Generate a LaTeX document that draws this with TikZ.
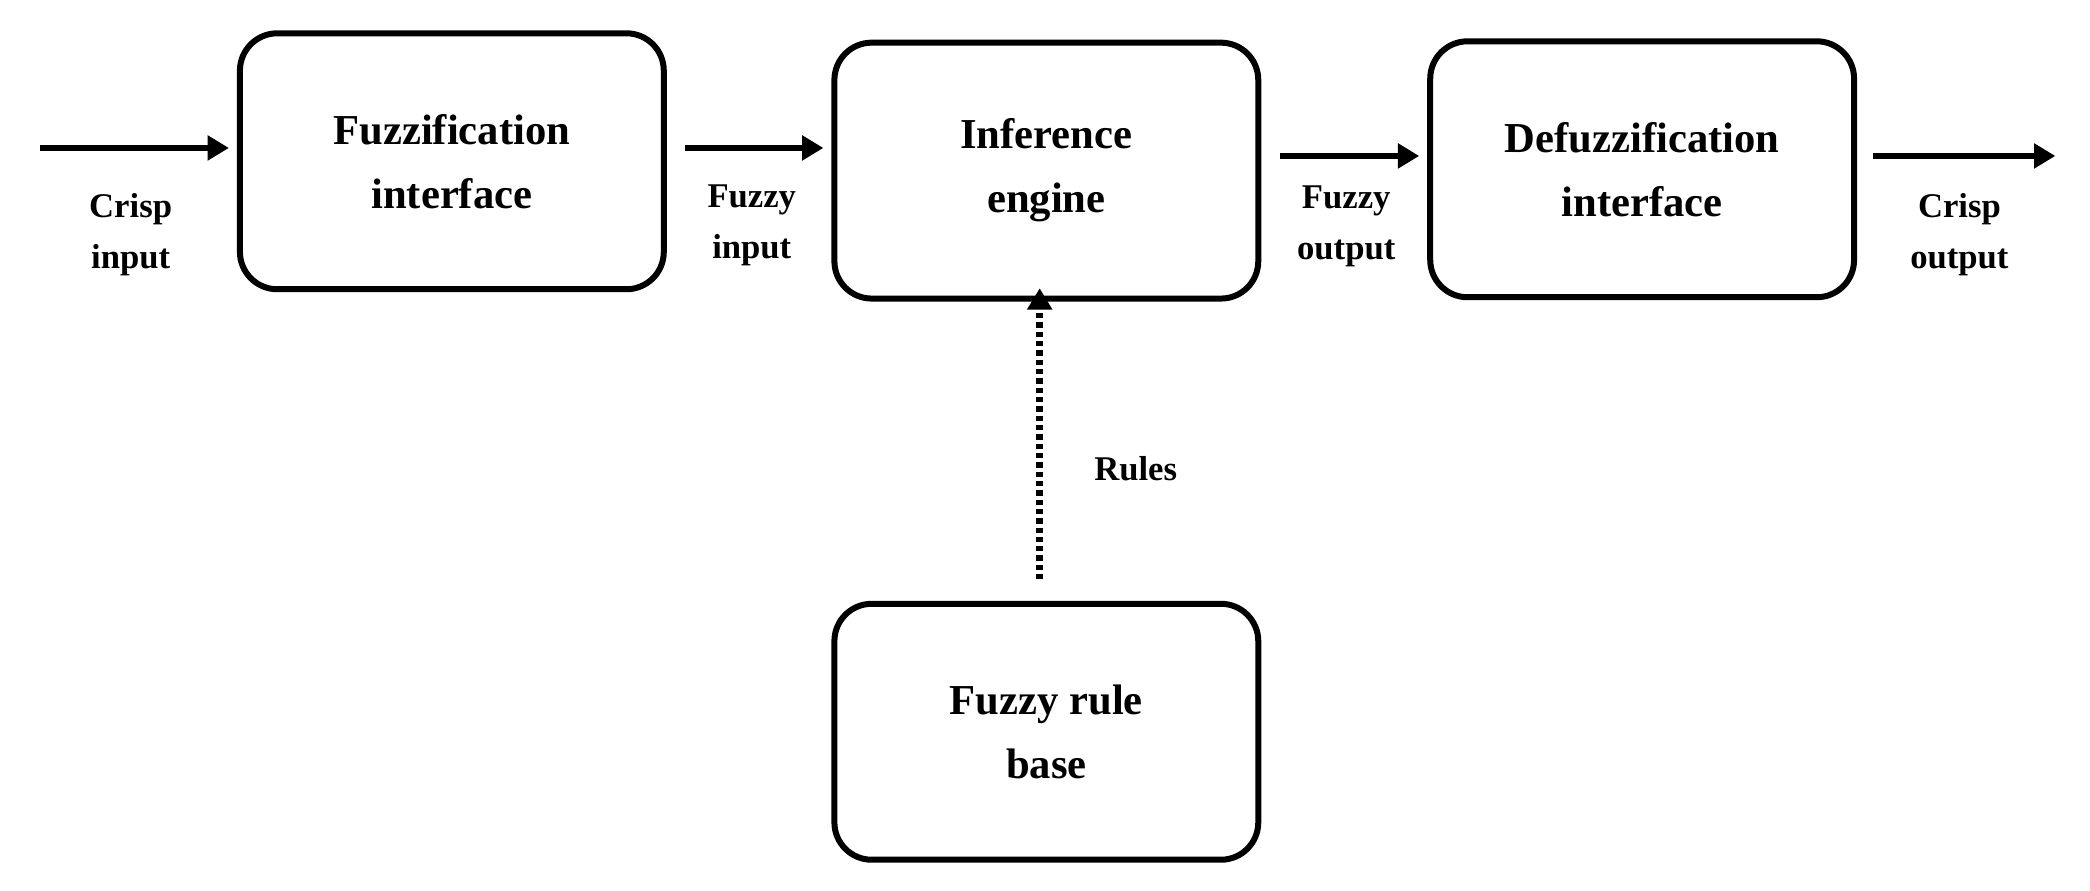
\documentclass[tikz,border=0pt]{standalone}
\usepackage{fontspec}
\setmainfont{Liberation Serif}
\usetikzlibrary{arrows.meta}
\begin{document}
\begin{tikzpicture}[x=1pt,y=-1pt,
  box/.style={draw,line width=4.5pt,rounded corners=28pt,minimum width=318pt,minimum height=192pt,align=center,font=\fontsize{32}{48}\selectfont\bfseries},
  lab/.style={align=center,font=\fontsize{26}{38}\selectfont\bfseries},
  arr/.style={line width=5pt,shorten >=6pt,-{Triangle[length=16pt,width=18pt]}}]
\useasboundingbox (0,0) rectangle (1568,668);
\node[box] (fz) at (339,121) {Fuzzification\\interface};
\node[box] (ie) at (785,128) {Inference\\engine};
\node[box] (df) at (1232,127) {Defuzzification\\interface};
\node[box] (rb) at (785,549) {Fuzzy rule\\base};
\coordinate (s1) at (30,111);
\coordinate (e4) at (1548,117);
\draw[arr] (s1) -- (fz.west|-s1);
\draw[arr] (fz.east|-0,111) ++(14,0) coordinate (a2) -- (ie.west|-a2);
\draw[arr] (ie.east|-0,117) ++(14,0) coordinate (a3) -- (df.west|-a3);
\draw[arr] (df.east|-0,117) ++(12,0) coordinate (a4) -- (e4);
\draw[line width=5pt,dash pattern=on 4pt off 3pt,-{Triangle[length=16pt,width=18pt]}] (rb.north-|780,0) ++(0,-16) coordinate (d1) -- ([yshift=10pt]ie.south-|d1);
\node[lab] (l1) at (98,176) {Crisp\\input};
\node[lab] (l2) at (564,169) {Fuzzy\\input};
\node[lab] (l3) at (1010,170) {Fuzzy\\output};
\node[lab] (l4) at (1470,176) {Crisp\\output};
\node[lab] (l5) at (852,352) {Rules};
\end{tikzpicture}
\end{document}
